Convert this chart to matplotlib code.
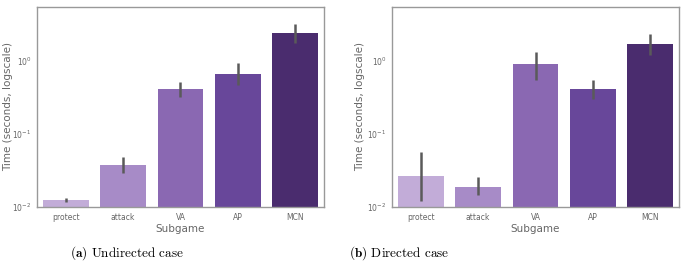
import numpy as np
import matplotlib
matplotlib.use('Agg')
import matplotlib.pyplot as plt
from matplotlib.ticker import LogLocator, NullLocator

subgames = ['protect', 'attack', 'VA', 'AP', 'MCN']
colors = ['#c2acd8', '#a78bc7', '#8a68b2', '#68479a', '#4a2c6e']

# mean time and confidence interval (low, high)
undirected_mean = [0.0125, 0.0376, 0.41, 0.66, 2.44]
undirected_low = [0.0118, 0.029, 0.32, 0.47, 1.78]
undirected_high = [0.0133, 0.049, 0.52, 0.93, 3.18]

directed_mean = [0.0266, 0.019, 0.90, 0.41, 1.71]
directed_low = [0.012, 0.0146, 0.55, 0.30, 1.21]
directed_high = [0.056, 0.0257, 1.31, 0.55, 2.32]

captions = [r'$\mathbf{(a)}$ Undirected case', r'$\mathbf{(b)}$ Directed case']
caption_x = [127 / 681, 399 / 681]
ylabel_x = [-0.085, -0.094]

plt.rcParams['mathtext.fontset'] = 'cm'
grey = '#666666'

fig = plt.figure(figsize=(6.81, 2.66), dpi=100)
axes = [fig.add_axes([0.0543, 0.2218, 0.4215, 0.7519]),
        fig.add_axes([0.5756, 0.2218, 0.4215, 0.7519])]

data = [(undirected_mean, undirected_low, undirected_high),
        (directed_mean, directed_low, directed_high)]

for i, (ax, (mean, low, high)) in enumerate(zip(axes, data)):
    x = np.arange(len(subgames))
    ax.bar(x, mean, width=0.8, color=colors, zorder=2)
    for xi, lo, hi in zip(x, low, high):
        ax.plot([xi, xi], [lo, hi], color='#5a5a5a', lw=1.8, zorder=3, solid_capstyle='butt')
    ax.set_yscale('log')
    ax.set_ylim(0.01, 5.5)
    ax.set_xlim(-0.5, 4.5)
    ax.yaxis.set_major_locator(LogLocator(base=10, numticks=10))
    ax.yaxis.set_minor_locator(NullLocator())
    ax.set_xticks(x)
    ax.set_xticklabels(subgames)
    ax.tick_params(axis='both', length=0, labelsize=5.5, labelcolor=grey, pad=4)
    ax.set_ylabel('Time (seconds, logscale)', fontsize=7.5, color=grey)
    ax.yaxis.set_label_coords(ylabel_x[i], 0.5)
    ax.set_xlabel('Subgame', fontsize=7.5, color=grey, labelpad=2)
    for sp in ax.spines.values():
        sp.set_color('#999999')
        sp.set_linewidth(1.0)
    fig.text(caption_x[i], 0.049, captions[i], ha='center', va='center',
             fontsize=9.5, family='cmr10')

fig.savefig('out.png', dpi=100)
